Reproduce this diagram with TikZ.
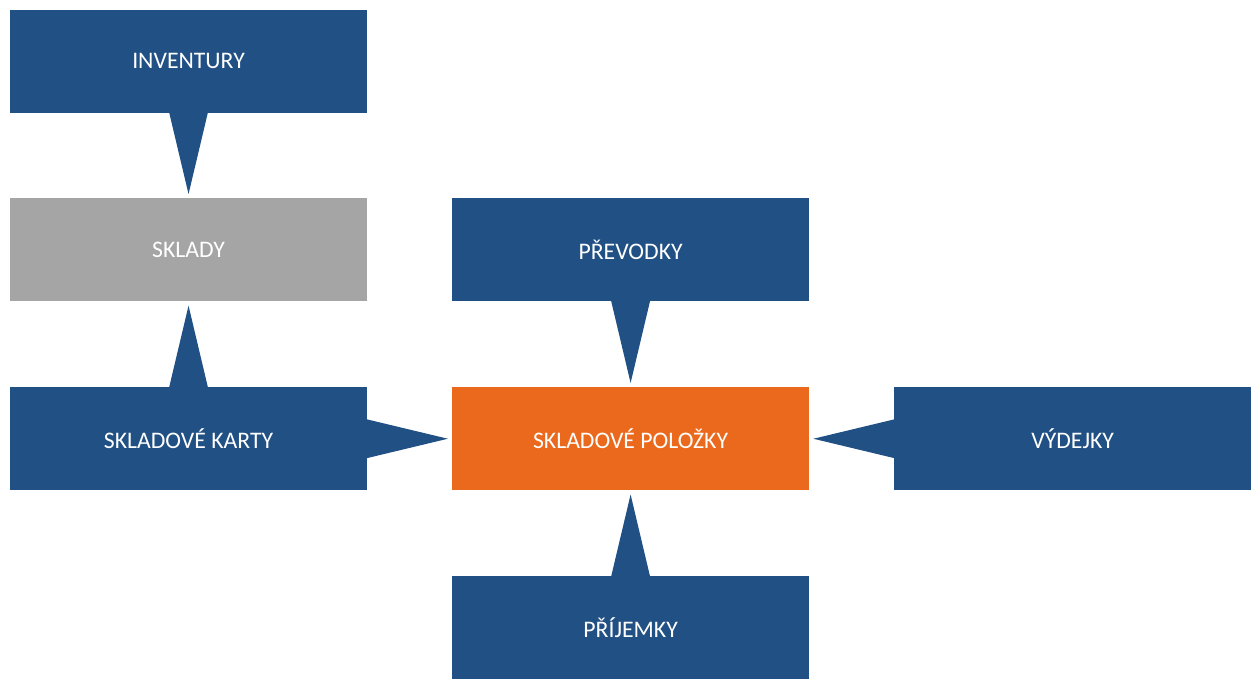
\documentclass[tikz,border=0pt]{standalone}
\usepackage{fontspec}
\setmainfont{Carlito}
\usetikzlibrary{positioning, calc}
\definecolor{boxblue}{RGB}{33,80,132}
\definecolor{boxorange}{RGB}{235,105,28}
\definecolor{boxgray}{RGB}{165,165,165}

\begin{document}
\begin{tikzpicture}[
node distance=64pt and 63.4pt,
box/.style={fill=boxblue, text=white, align=center, minimum width=267.75pt, minimum height=77.25pt, inner sep=0pt, font=\fontsize{17.8}{20}\selectfont},
pointer/.style={fill=boxblue}
]
\useasboundingbox (0,0) rectangle (945pt,-517.5pt);

\node[box] (inv) at (141.4pt,-45.75pt) {INVENTURY};
\node[box, fill=boxgray, below=of inv] (sklady) {SKLADY};
\node[box, below=of sklady] (karty) {SKLADOVÉ KARTY};
\node[box, fill=boxorange, right=of karty] (polozky) {SKLADOVÉ POLOŽKY};
\node[box, above=of polozky] (prevodky) {PŘEVODKY};
\node[box, right=of polozky] (vydejky) {VÝDEJKY};
\node[box, below=of polozky] (prijemky) {PŘÍJEMKY};

\fill[pointer] ($(inv.south)+(-14.6pt,0.5pt)$) -- ($(sklady.north)+(0,3pt)$) -- ($(inv.south)+(14.6pt,0.5pt)$) -- cycle;
\fill[pointer] ($(karty.north)+(-14.6pt,-0.5pt)$) -- ($(sklady.south)+(0,-3pt)$) -- ($(karty.north)+(14.6pt,-0.5pt)$) -- cycle;
\fill[pointer] ($(karty.east)+(-0.5pt,14.6pt)$) -- ($(polozky.west)+(-3pt,0)$) -- ($(karty.east)+(-0.5pt,-14.6pt)$) -- cycle;
\fill[pointer] ($(prevodky.south)+(-14.6pt,0.5pt)$) -- ($(polozky.north)+(0,3pt)$) -- ($(prevodky.south)+(14.6pt,0.5pt)$) -- cycle;
\fill[pointer] ($(vydejky.west)+(0.5pt,14.6pt)$) -- ($(polozky.east)+(3pt,0)$) -- ($(vydejky.west)+(0.5pt,-14.6pt)$) -- cycle;
\fill[pointer] ($(prijemky.north)+(-14.6pt,-0.5pt)$) -- ($(polozky.south)+(0,-3pt)$) -- ($(prijemky.north)+(14.6pt,-0.5pt)$) -- cycle;

\end{tikzpicture}
\end{document}
